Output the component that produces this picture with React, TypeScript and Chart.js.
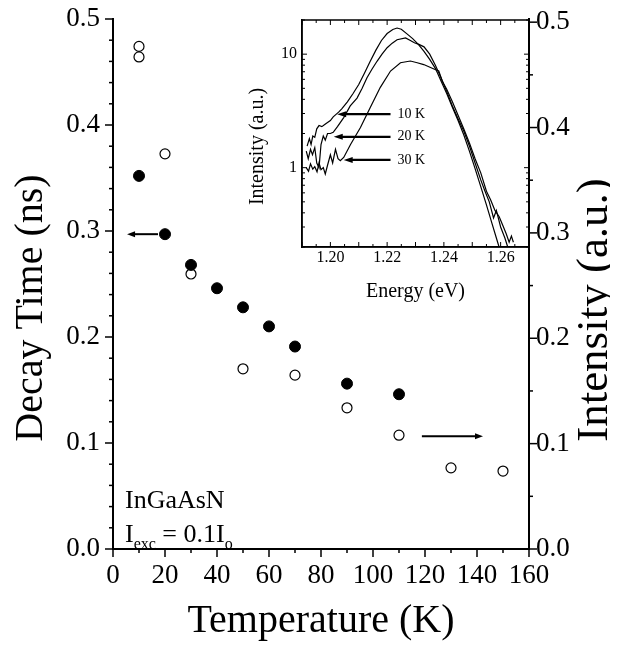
import React, { useEffect, useRef } from "react";
import { Chart, registerables } from "chart.js";
Chart.register(...registerables);

const FONT = "'Liberation Serif', 'Times New Roman', serif";

// ---- Main chart data ----
const decayTemps = [10, 20, 30, 40, 50, 60, 70, 90, 110];
const decayTimes = [0.352, 0.297, 0.268, 0.246, 0.228, 0.21, 0.191, 0.156, 0.146];
const intensityTemps = [10, 10, 20, 30, 50, 70, 90, 110, 130, 150];
const intensities = [0.477, 0.467, 0.375, 0.261, 0.171, 0.165, 0.134, 0.108, 0.077, 0.074];
const leftTickValues = [0, 0.1, 0.2, 0.3, 0.4, 0.5];
const rightTickValues = [0, 0.1, 0.2, 0.3, 0.4, 0.5];
const tempTickStep = 20;

// arrows (data coords)
const leftArrowFromT = 17.3;
const leftArrowToT = 5.4;
const leftArrowDecay = 0.297;
const rightArrowFromT = 118.8;
const rightArrowToT = 142.3;
const rightArrowIntensity = 0.107;

// ---- Inset data (PL spectra) ----
const energy10K = [1.1918, 1.1926, 1.1932, 1.1938, 1.1945, 1.1952, 1.196, 1.197, 1.198, 1.199, 1.2, 1.201, 1.202, 1.203, 1.204, 1.206, 1.208, 1.21, 1.212, 1.214, 1.216, 1.218, 1.22, 1.222, 1.2235, 1.225, 1.227, 1.229, 1.231, 1.233, 1.235, 1.237, 1.239, 1.241, 1.243, 1.245, 1.247, 1.249, 1.251, 1.253, 1.255, 1.257, 1.2585, 1.26];
const intensity10K = [1.55, 1.8, 1.6, 1.9, 1.85, 2.2, 2.35, 2.3, 2.4, 2.5, 2.6, 2.8, 2.95, 3.1, 3.3, 3.8, 4.5, 5.4, 6.8, 8.6, 10.8, 13.2, 15.2, 16.5, 17.0, 16.6, 15.1, 13.7, 12.2, 10.6, 9.0, 7.5, 5.8, 4.5, 3.4, 2.6, 1.95, 1.4, 0.98, 0.68, 0.47, 0.32, 0.24, 0.18];
const energy20K = [1.1915, 1.1922, 1.193, 1.1937, 1.1945, 1.1952, 1.196, 1.1967, 1.1975, 1.1982, 1.199, 1.2, 1.201, 1.2025, 1.2047, 1.207, 1.2094, 1.2112, 1.2129, 1.2147, 1.2165, 1.2182, 1.22, 1.2218, 1.2235, 1.2265, 1.2282, 1.2296, 1.2312, 1.233, 1.235, 1.237, 1.239, 1.241, 1.243, 1.245, 1.247, 1.249, 1.251, 1.253, 1.2545, 1.256, 1.2575, 1.2585, 1.26, 1.2615, 1.2625];
const intensity20K = [1.4, 1.2, 1.45, 1.3, 1.5, 1.1, 1.0, 1.6, 1.9, 1.75, 2.0, 2.0, 2.05, 2.3, 2.76, 3.5, 4.1, 5.0, 6.2, 7.4, 8.7, 10.0, 11.4, 12.5, 13.4, 13.9, 13.2, 12.6, 12.2, 11.6, 10.0, 8.0, 6.2, 4.7, 3.5, 2.7, 2.1, 1.55, 1.1, 0.78, 0.62, 0.5, 0.36, 0.42, 0.3, 0.24, 0.2];
const energy30K = [1.1915, 1.1923, 1.193, 1.1938, 1.1945, 1.1953, 1.196, 1.1967, 1.1975, 1.1982, 1.199, 1.2, 1.2008, 1.2018, 1.2027, 1.2035, 1.2047, 1.2071, 1.2106, 1.2141, 1.2176, 1.2212, 1.2247, 1.2282, 1.2306, 1.2329, 1.2365, 1.2382, 1.2394, 1.241, 1.243, 1.245, 1.247, 1.249, 1.251, 1.253, 1.255, 1.2565, 1.258, 1.2595, 1.261, 1.262, 1.263, 1.2638, 1.2645];
const intensity30K = [1.0, 0.93, 1.08, 0.97, 1.02, 0.92, 1.1, 0.96, 1.0, 0.88, 1.05, 1.3, 1.1, 1.45, 1.2, 1.15, 1.23, 1.6, 2.26, 3.4, 5.1, 7.1, 8.4, 8.7, 8.4, 8.1, 7.4, 7.1, 5.8, 4.9, 3.8, 2.9, 2.2, 1.65, 1.2, 0.9, 0.62, 0.52, 0.42, 0.37, 0.3, 0.26, 0.22, 0.25, 0.22];
const insetXTicks = [1.2, 1.22, 1.24, 1.26];
const insetYTicks = [1, 10];
const insetArrowLabels = ["10 K", "20 K", "30 K"];
const insetArrowHeadE = [1.2024, 1.2012, 1.2047];
const insetArrowI = [2.96, 1.87, 1.17];
const insetArrowTailE = 1.2212;
const insetLabelE = 1.2237;

function arrow(ctx: CanvasRenderingContext2D, x1: number, y1: number, x2: number, y2: number, lw: number, hl: number, hw: number) {
  const ang = Math.atan2(y2 - y1, x2 - x1);
  ctx.save();
  ctx.strokeStyle = "#000";
  ctx.fillStyle = "#000";
  ctx.lineWidth = lw;
  ctx.beginPath();
  ctx.moveTo(x1, y1);
  ctx.lineTo(x2 - Math.cos(ang) * hl * 0.8, y2 - Math.sin(ang) * hl * 0.8);
  ctx.stroke();
  ctx.translate(x2, y2);
  ctx.rotate(ang);
  ctx.beginPath();
  ctx.moveTo(0, 0);
  ctx.lineTo(-hl, -hw);
  ctx.lineTo(-hl, hw);
  ctx.closePath();
  ctx.fill();
  ctx.restore();
}

function line(ctx: CanvasRenderingContext2D, x1: number, y1: number, x2: number, y2: number) {
  ctx.beginPath();
  ctx.moveTo(x1, y1);
  ctx.lineTo(x2, y2);
  ctx.stroke();
}

const mainDecor = {
  id: "mainDecor",
  afterDraw(chart: any) {
    const { ctx, chartArea: a, scales } = chart;
    const x = scales.x, y = scales.y, y2 = scales.y2;
    ctx.save();
    ctx.strokeStyle = "#000";
    ctx.lineWidth = 1.5;
    for (let i = 0; i <= 16; i++) {
      const px = x.getPixelForValue(i * 10);
      line(ctx, px, a.bottom, px, a.bottom + (i % 2 === 0 ? 8 : 4));
    }
    for (let i = 0; i <= 25; i++) {
      const py = y.getPixelForValue(i * 0.02);
      line(ctx, a.left - (i % 5 === 0 ? 8 : 4), py, a.left, py);
    }
    for (let i = 0; i <= 10; i++) {
      const py = y2.getPixelForValue(i * 0.05);
      line(ctx, a.right, py, a.right + (i % 2 === 0 ? 8 : 4), py);
    }
    // arrows
    arrow(ctx, x.getPixelForValue(leftArrowFromT), y.getPixelForValue(leftArrowDecay), x.getPixelForValue(leftArrowToT), y.getPixelForValue(leftArrowDecay), 2, 8, 3);
    arrow(ctx, x.getPixelForValue(rightArrowFromT), y2.getPixelForValue(rightArrowIntensity), x.getPixelForValue(rightArrowToT), y2.getPixelForValue(rightArrowIntensity), 2, 8, 3);

    ctx.fillStyle = "#000";
    // annotation
    const tx = a.left + 12;
    ctx.textAlign = "left";
    ctx.textBaseline = "alphabetic";
    ctx.font = `26px ${FONT}`;
    ctx.fillText("InGaAsN", tx, a.bottom - 41);
    let cx = tx;
    const by = a.bottom - 7;
    ctx.fillText("I", cx, by);
    cx += ctx.measureText("I").width;
    ctx.font = `16px ${FONT}`;
    ctx.fillText("exc", cx, by + 7);
    cx += ctx.measureText("exc").width;
    ctx.font = `26px ${FONT}`;
    ctx.fillText(" = 0.1I", cx, by);
    cx += ctx.measureText(" = 0.1I").width;
    ctx.font = `16px ${FONT}`;
    ctx.fillText("o", cx, by + 7);

    // axis titles
    ctx.font = `40px ${FONT}`;
    ctx.textAlign = "center";
    ctx.textBaseline = "alphabetic";
    ctx.fillText("Temperature (K)", (a.left + a.right) / 2, 632);
    ctx.textBaseline = "middle";
    ctx.save();
    ctx.translate(31, (a.top + a.bottom) / 2 + 24);
    ctx.rotate(-Math.PI / 2);
    ctx.fillText("Decay Time (ns)", 0, 0);
    ctx.restore();
    ctx.font = `45px ${FONT}`;
    ctx.save();
    ctx.translate(595, (a.top + a.bottom) / 2 + 26);
    ctx.rotate(-Math.PI / 2);
    ctx.fillText("Intensity (a.u.)", 0, 0);
    ctx.restore();
    ctx.restore();
  },
};

const insetDecor = {
  id: "insetDecor",
  afterDraw(chart: any) {
    const { ctx, chartArea: a, scales } = chart;
    const x = scales.x, y = scales.y;
    ctx.save();
    ctx.strokeStyle = "#000";
    ctx.lineWidth = 1.5;
    ctx.strokeRect(a.left, a.top, a.right - a.left, a.bottom - a.top);
    ctx.lineWidth = 1;
    for (let i = 0; i <= 16; i++) {
      const px = x.getPixelForValue(1.19 + i * 0.005);
      const len = i % 2 === 0 ? 5 : 3;
      line(ctx, px, a.bottom, px, a.bottom - len);
      line(ctx, px, a.top, px, a.top + len);
    }
    const decades = [0.1, 1, 10];
    for (const d of decades) {
      for (let m = 1; m <= 9; m++) {
        const v = d * m;
        if (v < 0.2 - 1e-9 || v > 20 + 1e-9) continue;
        const py = y.getPixelForValue(v);
        const len = m === 1 ? 5 : 3;
        line(ctx, a.left, py, a.left + len, py);
        line(ctx, a.right, py, a.right - len, py);
      }
    }
    // arrows + labels
    ctx.fillStyle = "#000";
    ctx.font = `14px ${FONT}`;
    ctx.textAlign = "left";
    ctx.textBaseline = "middle";
    insetArrowLabels.forEach((lab, i) => {
      const py = y.getPixelForValue(insetArrowI[i]);
      arrow(ctx, x.getPixelForValue(insetArrowTailE), py, x.getPixelForValue(insetArrowHeadE[i]), py, 2.2, 9, 3);
      ctx.fillText(lab, x.getPixelForValue(insetLabelE), py);
    });
    // titles
    ctx.font = `20px ${FONT}`;
    ctx.textAlign = "center";
    ctx.textBaseline = "alphabetic";
    ctx.fillText("Energy (eV)", (a.left + a.right) / 2, 297);
    ctx.save();
    ctx.textBaseline = "middle";
    ctx.translate(18, (a.top + a.bottom) / 2 + 13);
    ctx.rotate(-Math.PI / 2);
    ctx.fillText("Intensity (a.u.)", 0, 0);
    ctx.restore();
    ctx.restore();
  },
};

function pts(xs: number[], ys: number[]) {
  return xs.map((v, i) => ({ x: v, y: ys[i] }));
}

const noPad = (s: any) => {
  s.paddingTop = 0;
  s.paddingBottom = 0;
  s.paddingLeft = 0;
  s.paddingRight = 0;
};

export default function App() {
  const mainRef = useRef<HTMLCanvasElement>(null);
  const insetRef = useRef<HTMLCanvasElement>(null);

  useEffect(() => {
    const tickFont = { family: FONT, size: 27 };
    const main = new Chart(mainRef.current!, {
      type: "scatter",
      data: {
        datasets: [
          {
            data: pts(decayTemps, decayTimes),
            yAxisID: "y",
            pointRadius: 5.5,
            pointBackgroundColor: "#000",
            pointBorderColor: "#000",
            pointBorderWidth: 1,
            showLine: false,
          },
          {
            data: pts(intensityTemps, intensities),
            yAxisID: "y2",
            pointRadius: 5,
            pointBackgroundColor: "#fff",
            pointBorderColor: "#000",
            pointBorderWidth: 1.2,
            showLine: false,
          },
        ],
      },
      options: {
        responsive: false,
        animation: false,
        devicePixelRatio: 1,
        layout: { padding: { top: 19, left: 0, right: 0, bottom: 0 } },
        plugins: { legend: { display: false }, tooltip: { enabled: false } },
        scales: {
          x: {
            type: "linear",
            position: "bottom",
            min: 0,
            max: 160,
            ticks: { stepSize: tempTickStep, font: tickFont, color: "#000", padding: 11, maxRotation: 0, autoSkip: false },
            grid: { display: false, drawTicks: false },
            border: { display: true, color: "#000", width: 2 },
            afterFit: (s: any) => { s.height = 101; noPad(s); },
          },
          y: {
            type: "linear",
            position: "left",
            min: 0,
            max: 0.5,
            afterBuildTicks: (s: any) => { s.ticks = leftTickValues.map((v) => ({ value: v })); },
            ticks: { font: tickFont, color: "#000", padding: 13, callback: (v: any) => Number(v).toFixed(1) },
            grid: { display: false, drawTicks: false },
            border: { display: true, color: "#000", width: 2 },
            afterFit: (s: any) => { s.width = 113; noPad(s); },
          },
          y2: {
            type: "linear",
            position: "right",
            min: 0,
            max: 0.503,
            afterBuildTicks: (s: any) => { s.ticks = rightTickValues.map((v) => ({ value: v })); },
            ticks: { font: tickFont, color: "#000", padding: 7, callback: (v: any) => Number(v).toFixed(1) },
            grid: { display: false, drawTicks: false },
            border: { display: true, color: "#000", width: 2 },
            afterFit: (s: any) => { s.width = 89; noPad(s); },
          },
        },
      },
      plugins: [mainDecor],
    } as any);

    const insetFont = { family: FONT, size: 16 };
    const lineDs = (xs: number[], ys: number[]) => ({
      data: pts(xs, ys),
      showLine: true,
      borderColor: "#000",
      borderWidth: 1.2,
      pointRadius: 0,
      tension: 0,
      fill: false,
    });
    const inset = new Chart(insetRef.current!, {
      type: "scatter",
      data: {
        datasets: [lineDs(energy10K, intensity10K), lineDs(energy20K, intensity20K), lineDs(energy30K, intensity30K)],
      },
      options: {
        responsive: false,
        animation: false,
        devicePixelRatio: 1,
        layout: { padding: { top: 20, left: 0, right: 11, bottom: 0 } },
        plugins: { legend: { display: false }, tooltip: { enabled: false } },
        scales: {
          x: {
            type: "linear",
            min: 1.19,
            max: 1.27,
            afterBuildTicks: (s: any) => { s.ticks = insetXTicks.map((v) => ({ value: v })); },
            ticks: { font: insetFont, color: "#000", padding: 1, maxRotation: 0, autoSkip: false, callback: (v: any) => Number(v).toFixed(2) },
            grid: { display: false, drawTicks: false },
            border: { display: true, color: "#000", width: 1.5 },
            afterFit: (s: any) => { s.height = 73; noPad(s); },
          },
          y: {
            type: "logarithmic",
            min: 0.2,
            max: 20,
            afterBuildTicks: (s: any) => { s.ticks = insetYTicks.map((v) => ({ value: v })); },
            ticks: { font: insetFont, color: "#000", padding: 5, callback: (v: any) => String(v) },
            grid: { display: false, drawTicks: false },
            border: { display: true, color: "#000", width: 1.5 },
            afterFit: (s: any) => { s.width = 62; noPad(s); },
          },
        },
      },
      plugins: [insetDecor],
    } as any);

    return () => {
      main.destroy();
      inset.destroy();
    };
  }, []);

  return (
    <div style={{ position: "relative", width: 618, height: 650, margin: -8, background: "#fff" }}>
      <canvas ref={mainRef} width={618} height={650} style={{ position: "absolute", left: 0, top: 0 }} />
      <canvas ref={insetRef} width={300} height={320} style={{ position: "absolute", left: 240, top: 0 }} />
    </div>
  );
}
